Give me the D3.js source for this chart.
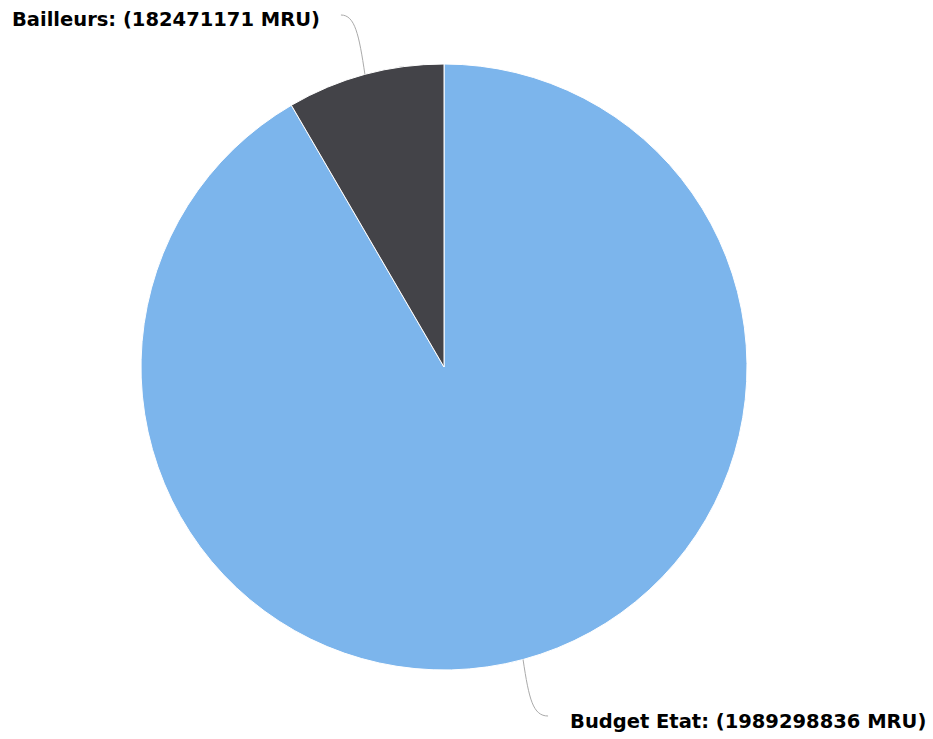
<!DOCTYPE html>
<html>
<head>
<meta charset="utf-8">
<script src="https://cdn.jsdelivr.net/npm/d3@7"></script>
<style>
  body { margin: 0; background: #fff; }
  svg text { font-family: "DejaVu Sans", Verdana, sans-serif; font-weight: bold; font-size: 19.5px; fill: #000; }
</style>
</head>
<body>
<div id="chart"></div>
<script>
var
  categories = ["Budget Etat", "Bailleurs"],
  values = [1989298836, 182471171],
  colors = ["#7cb5ec", "#434348"],
  unit = "MRU";

var
  WIDTH = 933,
  HEIGHT = 739,
  CX = 444,
  CY = 367,
  RADIUS = 303;

var svg = d3.select("#chart").append("svg")
  .attr("width", WIDTH)
  .attr("height", HEIGHT);

var slices = d3.pie().sort(null).value(function(d){ return d; })(values);

var arc = d3.arc().innerRadius(0).outerRadius(RADIUS);

var g = svg.append("g").attr("transform", "translate(" + CX + "," + CY + ")");

g.selectAll("path.slice")
  .data(slices)
  .enter().append("path")
  .attr("class", "slice")
  .attr("d", arc)
  .attr("fill", function(d, i){ return colors[i]; })
  .attr("stroke", "#fff")
  .attr("stroke-width", 1)
  .attr("stroke-linejoin", "round");

// point on the pie edge at the middle of a slice
function edgePoint(d){
  var a = (d.startAngle + d.endAngle) / 2;
  return [Math.sin(a) * RADIUS, -Math.cos(a) * RADIUS];
}

slices.forEach(function(d, i){
  var p = edgePoint(d),
    top = p[1] < 0,
    ax = top ? p[0] - 24 : p[0] + 25,
    ay = top ? -352 : 349,
    path = d3.path();

  path.moveTo(p[0], p[1]);
  if (top) {
    path.bezierCurveTo(p[0] - 6, p[1] - 40, p[0] - 10, ay, ax, ay);
  } else {
    path.bezierCurveTo(p[0] + 6, p[1] + 40, p[0] + 10, ay, ax, ay);
  }

  g.append("path")
    .attr("d", path.toString())
    .attr("fill", "none")
    .attr("stroke", "#aaa")
    .attr("stroke-width", 1);

  g.append("text")
    .attr("x", top ? ax - 21 : ax + 22)
    .attr("y", ay + (top ? 4 : 5))
    .attr("dy", "0.35em")
    .attr("text-anchor", top ? "end" : "start")
    .text(categories[i] + ": (" + values[i] + " " + unit + ")");
});
</script>
</body>
</html>
